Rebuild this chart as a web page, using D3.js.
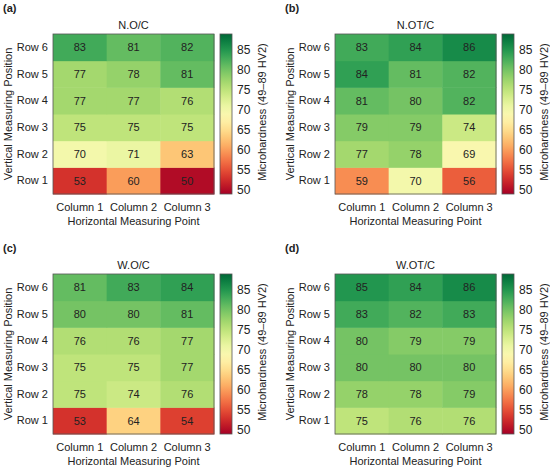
<!DOCTYPE html>
<html>
<head>
  <meta charset="utf-8">
  <title>Microhardness maps</title>
  <style>
    body { margin: 0; background: white; }
    svg text { font-family: "Liberation Sans", Arial, sans-serif; fill: #222; }
    .tick text { font-size: 11px; }
  </style>
  <script src="https://d3js.org/d3.v7.min.js"></script>
</head>
<body>
  <div id="chart"></div>
  <script>
    // rows listed bottom-up (Row 1 .. Row 6), three columns each
    const rowLabels = ["Row 1", "Row 2", "Row 3", "Row 4", "Row 5", "Row 6"];
    const colLabels = ["Column 1", "Column 2", "Column 3"];
    const panelLetters = ["(a)", "(b)", "(c)", "(d)"];
    const panelTitles = ["N.O/C", "N.OT/C", "W.O/C", "W.OT/C"];

    const nocValues  = [[53, 60, 50], [70, 71, 63], [75, 75, 75], [77, 77, 76], [77, 78, 81], [83, 81, 82]];
    const notcValues = [[59, 70, 56], [77, 78, 69], [79, 79, 74], [81, 80, 82], [84, 81, 82], [83, 84, 86]];
    const wocValues  = [[53, 64, 54], [75, 74, 76], [75, 75, 77], [76, 76, 77], [80, 80, 81], [81, 83, 84]];
    const wotcValues = [[75, 76, 76], [78, 78, 79], [80, 80, 80], [80, 79, 79], [83, 82, 83], [85, 84, 86]];

    const colorDomain = [49, 89];
    const colorTicks = [50, 55, 60, 65, 70, 75, 80, 85];

    const allValues = [nocValues, notcValues, wocValues, wotcValues];
    const offsets = [[0, 0], [282, 0], [0, 240], [282, 240]];

    const svg = d3.select("#chart").append("svg")
      .attr("width", 550)
      .attr("height", 468);

    // heatmap box inside each panel
    const hm = {x: 53, y: 34, w: 161, h: 160};
    const cb = {x: 220, w: 12};

    const color = d3.scaleSequential(d3.interpolateRdYlGn).domain(colorDomain);

    // gradient for the colorbar
    const grad = svg.append("defs").append("linearGradient")
      .attr("id", "cbgrad")
      .attr("x1", 0).attr("y1", 1).attr("x2", 0).attr("y2", 0);
    d3.range(0, 1.0001, 0.05).forEach(t => {
      grad.append("stop")
        .attr("offset", t)
        .attr("stop-color", d3.interpolateRdYlGn(t));
    });

    const x = d3.scaleBand().domain(colLabels).range([hm.x, hm.x + hm.w]);
    const y = d3.scaleBand().domain(rowLabels.slice().reverse()).range([hm.y, hm.y + hm.h]);
    const yc = d3.scaleLinear().domain(colorDomain).range([hm.y + hm.h, hm.y]);

    allValues.forEach((vals, p) => {
      const g = svg.append("g")
        .attr("transform", `translate(${offsets[p][0]},${offsets[p][1]})`);

      const cells = [];
      vals.forEach((row, r) => row.forEach((v, c) => {
        cells.push({row: rowLabels[r], col: colLabels[c], value: v});
      }));

      g.selectAll("rect.cell")
        .data(cells)
        .enter().append("rect")
          .attr("class", "cell")
          .attr("x", d => x(d.col))
          .attr("y", d => y(d.row))
          .attr("width", x.bandwidth() + 0.5)
          .attr("height", y.bandwidth() + 0.5)
          .attr("fill", d => color(d.value));

      g.selectAll("text.val")
        .data(cells)
        .enter().append("text")
          .attr("class", "val")
          .attr("x", d => x(d.col) + x.bandwidth() / 2)
          .attr("y", d => y(d.row) + y.bandwidth() / 2)
          .attr("dy", "0.36em")
          .attr("text-anchor", "middle")
          .style("font-size", "11px")
          .text(d => d.value);

      g.append("rect")
        .attr("x", hm.x).attr("y", hm.y)
        .attr("width", hm.w).attr("height", hm.h)
        .attr("fill", "none")
        .attr("stroke", "#555")
        .attr("stroke-width", 0.8);

      // axes
      g.append("g")
        .attr("transform", `translate(0,${hm.y + hm.h})`)
        .call(d3.axisBottom(x).tickSize(0).tickPadding(9))
        .call(a => a.select(".domain").remove());

      g.append("g")
        .attr("transform", `translate(${hm.x},0)`)
        .call(d3.axisLeft(y).tickSize(0).tickPadding(5))
        .call(a => a.select(".domain").remove());

      g.append("text")
        .attr("x", hm.x + hm.w / 2)
        .attr("y", 225)
        .attr("text-anchor", "middle")
        .style("font-size", "11px")
        .text("Horizontal Measuring Point");

      g.append("text")
        .attr("transform", `translate(12,${hm.y + hm.h / 2}) rotate(-90)`)
        .attr("text-anchor", "middle")
        .style("font-size", "11px")
        .text("Vertical Measuring Position");

      g.append("text")
        .attr("x", hm.x + hm.w / 2)
        .attr("y", 29)
        .attr("text-anchor", "middle")
        .style("font-size", "11px")
        .text(panelTitles[p]);

      g.append("text")
        .attr("x", 3)
        .attr("y", 12)
        .style("font-size", "11px")
        .style("font-weight", "bold")
        .text(panelLetters[p]);

      // colorbar
      g.append("rect")
        .attr("x", cb.x).attr("y", hm.y)
        .attr("width", cb.w).attr("height", hm.h)
        .attr("fill", "url(#cbgrad)")
        .attr("stroke", "#555")
        .attr("stroke-width", 0.8);

      g.append("g")
        .attr("transform", `translate(${cb.x + cb.w},0)`)
        .call(d3.axisRight(yc).tickValues(colorTicks).tickSize(0).tickPadding(5))
        .call(a => a.select(".domain").remove())
        .selectAll("text").style("font-size", "12px");

      g.append("text")
        .attr("transform", `translate(266,${hm.y + hm.h / 2 - 2}) rotate(-90)`)
        .attr("text-anchor", "middle")
        .style("font-size", "11px")
        .text("Microhardness (49\u201389 HV2)");
    });
  </script>
</body>
</html>
